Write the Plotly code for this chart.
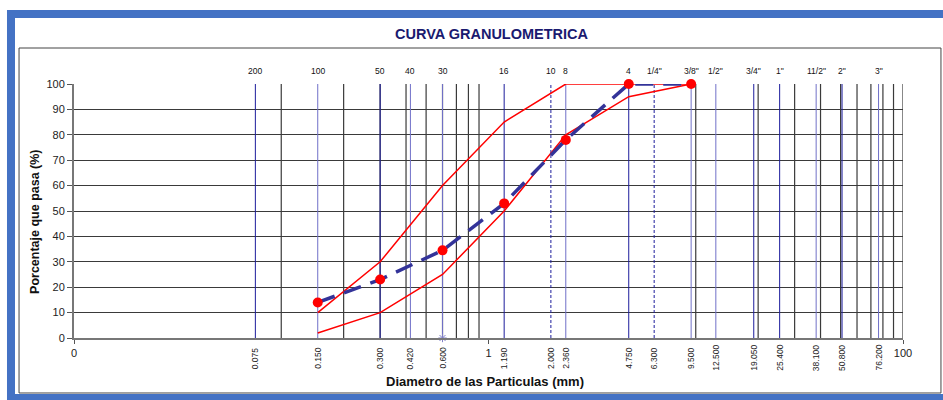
import plotly.graph_objects as go
import math

# ---- data ----
sieve_mm = [0.15, 0.30, 0.60, 1.19, 2.36, 4.75, 9.50]
sample_pass = [14, 23, 34.5, 53, 78, 100, 100]
upper_limit = [10, 30, 60, 85, 100, 100, 100]
lower_limit = [2, 10, 25, 50, 80, 95, 100]

line_sizes = [0.075, 0.150, 0.300, 0.420, 0.600, 1.190, 2.000, 2.360, 4.750, 6.300,
              9.500, 12.500, 19.050, 25.400, 38.100, 50.800, 76.200]
line_bottom_labels = ["0.075", "0.150", "0.300", "0.420", "0.600", "1.190", "2.000", "2.360",
                      "4.750", "6.300", "9.500", "12.500", "19.050", "25.400", "38.100",
                      "50.800", "76.200"]
line_top_labels = ["200", "100", "50", "40", "30", "16", "10", "8", "4", "1/4\"", "3/8\"",
                   "1/2\"", "3/4\"", "1\"", "11/2\"", "2\"", "3\""]
line_dashed = [False, False, False, False, False, False, True, False, False, True,
               False, False, False, False, False, False, False]
line_light = [False, True, False, True, True, False, False, True, False, False,
              True, True, False, False, True, False, True]
black_grid = [0.1, 0.2, 0.3, 0.4, 0.5, 0.6, 0.7, 0.8, 0.9,
              10, 20, 30, 40, 50, 60, 70, 80, 90, 100]
x_tickvals = [0.01, 1, 100]
x_ticktext = ["0", "1", "100"]
y_ticks = [0, 10, 20, 30, 40, 50, 60, 70, 80, 90, 100]

FONT = "Liberation Sans, Arial, sans-serif"

fig = go.Figure()

shapes = []
# black vertical grid
for v in black_grid:
    shapes.append(dict(type="line", xref="x", yref="y", x0=v, x1=v, y0=0, y1=100,
                       line=dict(color="#3a3a3a", width=1.2), layer="between"))
# blue sieve lines
for v, d, lt in zip(line_sizes, line_dashed, line_light):
    shapes.append(dict(type="line", xref="x", yref="y", x0=v, x1=v, y0=0, y1=100,
                       line=dict(color="#7070c8" if lt else "#1c1c9c", width=1,
                                 dash="3px,2px" if d else "solid"), layer="between"))
# outer blue frame
shapes.append(dict(type="rect", xref="paper", yref="paper", x0=-0.076, x1=1.08,
                   y0=-0.236, y1=1.2756, line=dict(color="#4472C4", width=8), layer="below"))
# inner black box
shapes.append(dict(type="rect", xref="paper", yref="paper", x0=-0.0663, x1=1.0458,
                   y0=-0.2165, y1=1.1417, line=dict(color="#444444", width=1), layer="below"))

fig.add_trace(go.Scatter(x=sieve_mm, y=upper_limit, mode="lines",
                         line=dict(color="#FF0000", width=1.5), showlegend=False))
fig.add_trace(go.Scatter(x=sieve_mm, y=lower_limit, mode="lines",
                         line=dict(color="#FF0000", width=1.5), showlegend=False))
fig.add_trace(go.Scatter(x=sieve_mm, y=sample_pass, mode="lines",
                         line=dict(color="#333399", width=3.5, dash="18px,10px"),
                         showlegend=False))
fig.add_trace(go.Scatter(x=sieve_mm, y=sample_pass, mode="markers", cliponaxis=False,
                         marker=dict(color="#FF0000", size=10), showlegend=False))
fig.add_trace(go.Scatter(x=[0.6], y=[0], mode="markers", cliponaxis=False,
                         marker=dict(symbol="asterisk-open", size=7, color="#8080c8",
                                     line=dict(color="#8080c8", width=1)),
                         showlegend=False))

annotations = []
for v, t in zip(line_sizes, line_top_labels):
    annotations.append(dict(x=math.log10(v), xref="x", y=1.051, yref="paper", text=t,
                            showarrow=False, xanchor="center", yanchor="middle",
                            font=dict(family=FONT, size=8.5, color="#111111")))
for v, t in zip(line_sizes, line_bottom_labels):
    annotations.append(dict(x=math.log10(v), xref="x", y=-0.0787, yref="paper", text=t,
                            showarrow=False, xanchor="center", yanchor="middle",
                            textangle=-90,
                            font=dict(family=FONT, size=8.5, color="#222222")))
annotations.append(dict(x=0.504, y=1.197, xref="paper", yref="paper",
                        text="<b>CURVA GRANULOMETRICA</b>", showarrow=False,
                        xanchor="center", yanchor="middle",
                        font=dict(family=FONT, size=14.5, color="#1a1a70")))
annotations.append(dict(x=0.496, y=-0.173, xref="paper", yref="paper",
                        text="<b>Diametro de las Particulas (mm)</b>", showarrow=False,
                        xanchor="center", yanchor="middle",
                        font=dict(family=FONT, size=13, color="#111111")))
annotations.append(dict(x=-0.047, y=0.457, xref="paper", yref="paper",
                        text="<b>Porcentaje que pasa (%)</b>", showarrow=False,
                        xanchor="center", yanchor="middle", textangle=-90,
                        font=dict(family=FONT, size=12.5, color="#111111")))

fig.update_layout(
    width=943, height=400,
    margin=dict(l=74, r=40, t=84, b=62),
    paper_bgcolor="white", plot_bgcolor="white",
    shapes=shapes, annotations=annotations,
    showlegend=False,
    xaxis=dict(type="log", range=[-2, 2], tickvals=x_tickvals, ticktext=x_ticktext,
               showgrid=False, zeroline=False, showline=True, linecolor="#777777",
               linewidth=2, ticks="outside", ticklen=4, tickcolor="#555555",
               tickfont=dict(family=FONT, size=11, color="#222222")),
    yaxis=dict(range=[0, 100], tickvals=y_ticks, showgrid=True, gridcolor="#3a3a3a",
               gridwidth=1, zeroline=False, showline=True, linecolor="#777777",
               linewidth=2, ticks="outside", ticklen=5, tickcolor="#555555",
               tickfont=dict(family=FONT, size=11, color="#222222")),
)

fig.write_html("out.html", config={"displayModeBar": False},
               post_script="document.body.style.margin='0';document.body.style.overflow='hidden';")
